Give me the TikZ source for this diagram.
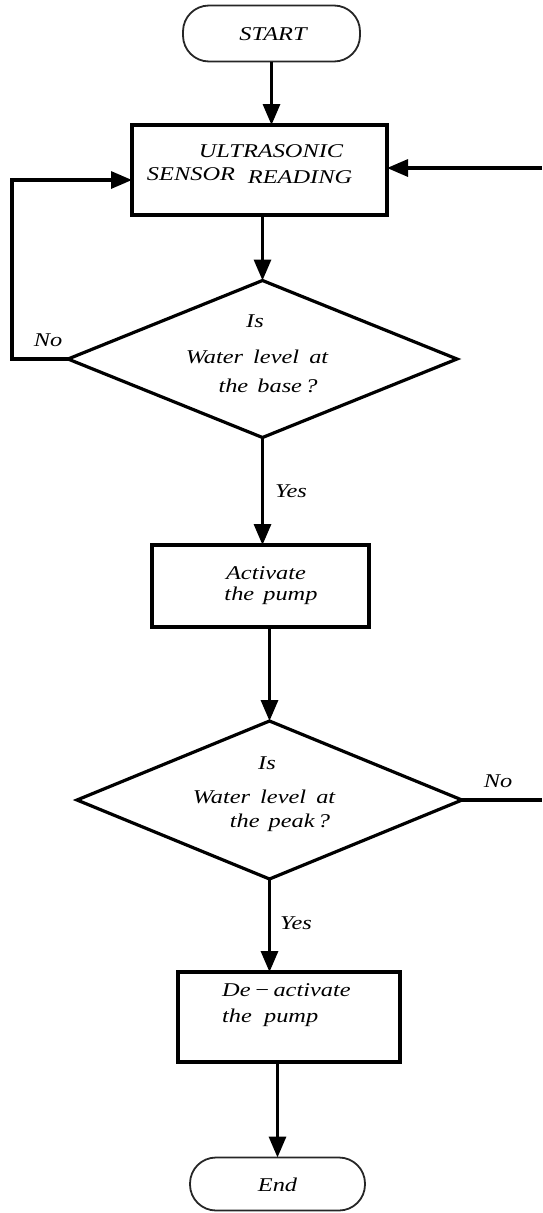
\documentclass[tikz,border=0pt]{standalone}
\usepackage{fontspec}
\setmainfont{Liberation Serif}[FakeStretch=1.25]
\usetikzlibrary{arrows.meta,shapes.geometric}
\tikzset{
  procbox/.style={draw, line width=3.2pt, inner sep=0pt, outer sep=0pt},
  term/.style={draw=black!85, line width=1.8pt, rounded corners=26pt, inner sep=0pt, outer sep=0pt},
  decide/.style={draw, diamond, line width=3.2pt, inner sep=0pt, outer sep=0pt},
  arr/.style={line width=3.2pt, -{Triangle[length=21pt,width=17pt]}},
  conn/.style={line width=3.2pt},
  txt/.style={inner sep=0pt, font=\fontsize{19.5}{21}\selectfont\itshape},
}
\begin{document}
\begin{tikzpicture}[x=1pt,y=-1pt]
\useasboundingbox (0,0) rectangle (542,1213);
% shapes
\node[term, minimum width=177pt, minimum height=56pt] (start) at (271.5,33.5) {};
\node[procbox, minimum width=255pt, minimum height=90pt] (b1) at (259.5,170) {};
\node[decide, minimum width=389pt, minimum height=157pt] (d1) at (262.5,359) {};
\node[procbox, minimum width=217pt, minimum height=82pt] (b2) at (260.5,586) {};
\node[decide, minimum width=385pt, minimum height=158pt] (d2) at (269.5,800) {};
\node[procbox, minimum width=222pt, minimum height=90pt] (b3) at (289,1017) {};
\node[term, minimum width=175pt, minimum height=53pt] (en) at (277.5,1184) {};
% texts
\node[txt] (tstart) at (273,34) {START};
\node[txt] (t1a) at (271,151) {ULTRASONIC};
\node[txt] (t1b) at (191,174) {SENSOR};
\node[txt] (t1c) at (300,177) {READING};
\node[txt] (t2a) at (255,321) {Is};
\node[txt] (t2b) at (257,357) {Water\hspace{4pt} level\hspace{4pt} at};
\node[txt] (t2c) at (268,386) {the\hspace{3pt} base\,?};
\node[txt] (t3a) at (266,573) {Activate};
\node[txt] (t3b) at (271,596) {the\hspace{3pt} pump};
\node[txt] (t4a) at (267,763) {Is};
\node[txt] (t4b) at (264,797) {Water\hspace{4pt} level\hspace{4pt} at};
\node[txt] (t4c) at (280,823) {the\hspace{3pt} peak\,?};
\node[txt, anchor=west] (t5a) at (222,990) {De\,−\,activate};
\node[txt, anchor=west] (t5b) at (222,1018) {the\hspace{6pt} pump};
\node[txt] (tend) at (277.5,1185) {End};
% labels
\node[txt] (no1) at (48,340) {No};
\node[txt] (yes1) at (291,491) {Yes};
\node[txt] (no2) at (498,781) {No};
\node[txt] (yes2) at (296,923) {Yes};
% coordinates for free ends
\coordinate (r1) at (542,168);
\coordinate (r2) at (542,800);
\coordinate (lp) at (12,180);
% connectors
\draw[arr] (start.south) -- (start.south |- b1.north);
\draw[arr] (d1.north |- b1.south) -- (d1.north);
\draw[arr] (r1) -- (r1 -| b1.east);
\draw[arr] (d1.west) -| (lp) -- (lp -| b1.west);
\draw[arr] (d1.south) -- (d1.south |- b2.north);
\draw[arr] (d2.north |- b2.south) -- (d2.north);
\draw[conn] (d2.east) -- (r2);
\draw[arr] (d2.south) -- (d2.south |- b3.north);
\draw[arr] (en.north |- b3.south) -- (en.north);
\end{tikzpicture}
\end{document}
